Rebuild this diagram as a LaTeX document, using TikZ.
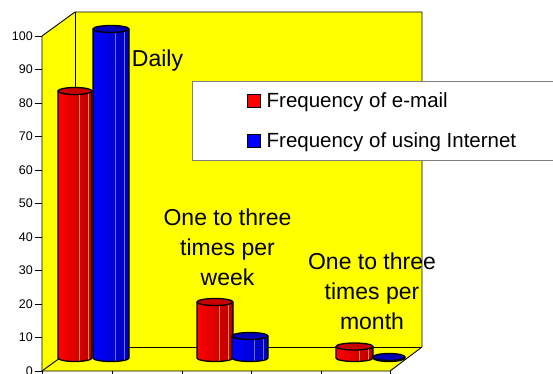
\documentclass[tikz,border=0pt]{standalone}
\usepackage{fontspec}
\setmainfont{Liberation Sans}
\usepackage{xcolor}
\definecolor{wallYellow} {HTML}{FFFF00}
\definecolor{barRed}     {HTML}{FF0000}
\definecolor{barRedTop}  {HTML}{C80000}
\definecolor{barRedShine}{HTML}{FF9040}
\definecolor{barBlue}    {HTML}{0000FF}
\definecolor{barBlueTop} {HTML}{0000B4}
\definecolor{barBlueShine}{HTML}{6070FF}
\definecolor{legendEdge} {HTML}{808080}
\usetikzlibrary{positioning}
\tikzset{
    wall/.style={fill=wallYellow, draw=none},
    frame/.style={draw=black, line width=0.9pt, line join=round},
    tick/.style={draw=black, line width=0.9pt},
    ticklabel/.style={anchor=east, inner sep=0pt,
                      font=\fontsize{12.5}{14}\selectfont},
    grouplabel/.style={align=center, inner sep=0pt,
                       font=\fontsize{23}{30}\selectfont},
    legendbox/.style={draw=legendEdge, fill=white, line width=0.9pt},
    legendkey/.style={draw=black, line width=0.9pt, minimum size=13pt,
                      inner sep=0pt},
    legendtext/.style={inner sep=0pt, font=\fontsize{20.5}{24}\selectfont},
    barside/.style={draw=black, line width=1.3pt, line join=round},
    bartop/.style={draw=black, line width=1.3pt},
    shine/.style={line width=0.5pt},
}

\begin{document}
\begin{tikzpicture}[x=1pt, y=-1pt]
    \useasboundingbox (0,0) rectangle (553,374);
    % Walls and floor
    \fill[wall] (42,36) -- (75,12) -- (75,347) -- (42,371) -- cycle;
    \fill[wall] (75,12) rectangle (422,347);
    \fill[wall] (42,371) -- (75,347) -- (422,347) -- (390,371) -- cycle;
    \draw[frame] (42,371) -- (42,36) -- (75,12) -- (422,12) -- (422,347)
                 -- (390,371) -- cycle;
    \draw[frame] (75,12) -- (75,347) -- (422,347);
    \draw[frame] (42,371) -- (75,347);
    % Axis ticks
    \foreach \v in {0,10,...,100} {
        \draw[tick] (35,{371-3.35*\v}) -- (42,{371-3.35*\v});
        \node[ticklabel] (l\v) at (33,{371-3.35*\v}) {\v};
    }
    \foreach \x in {42,112,182,251,321,390}
        \draw[tick] (\x,371) -- (\x,376);
    % Cylinders
    \foreach \xl/\xr/\yt/\c/\t/\s in {
        58/92/91/barRed/barRedTop/barRedShine,
        93/129/29/barBlue/barBlueTop/barBlueShine,
        197/233/302/barRed/barRedTop/barRedShine,
        232/268/336/barBlue/barBlueTop/barBlueShine,
        336/373/346.5/barRed/barRedTop/barRedShine,
        373/405/357/barBlue/barBlueTop/barBlueShine} {
        \pgfmathsetmacro{\rx}{(\xr-\xl)/2}
        \pgfmathsetmacro{\xm}{(\xr+\xl)/2}
        \shade[left color=\c, right color=\c!72!black]
            (\xl,\yt) -- (\xl,358)
            arc[start angle=180, end angle=360, x radius=\rx pt, y radius=3.5pt]
            -- (\xr,\yt) -- cycle;
        \draw[shine, \s] ({\xl+1.25*\rx},\yt) -- ({\xl+1.25*\rx},361);
        \draw[shine, \s] ({\xl+1.75*\rx},\yt) -- ({\xl+1.75*\rx},360);
        \draw[barside] (\xl,\yt) -- (\xl,358)
            arc[start angle=180, end angle=360, x radius=\rx pt, y radius=3.5pt]
            -- (\xr,\yt);
        \draw[bartop, fill=\t] (\xm,\yt) ellipse[x radius=\rx pt, y radius=3.5pt];
    }
    % Category labels
    \node[grouplabel, anchor=base] (daily) at (157.5,67) {Daily};
    \node[grouplabel, anchor=north] (weekly) at (227.5,209)
        {One to three\\times per\\week};
    \node[grouplabel, anchor=north] (monthly) at (372,253)
        {One to three\\times per\\month};
    % Legend
    \draw[legendbox] (192,81) rectangle (560,160);
    \node[legendkey, fill=barRed] (k1) at (253.5,101) {};
    \node[legendkey, fill=barBlue, below=26pt of k1] (k2) {};
    \node[legendtext, right=6pt of k1.south east, anchor=base west] (t1)
        {Frequency of e-mail};
    \node[legendtext, right=6pt of k2.south east, anchor=base west] (t2)
        {Frequency of using Internet};
\end{tikzpicture}
\end{document}
